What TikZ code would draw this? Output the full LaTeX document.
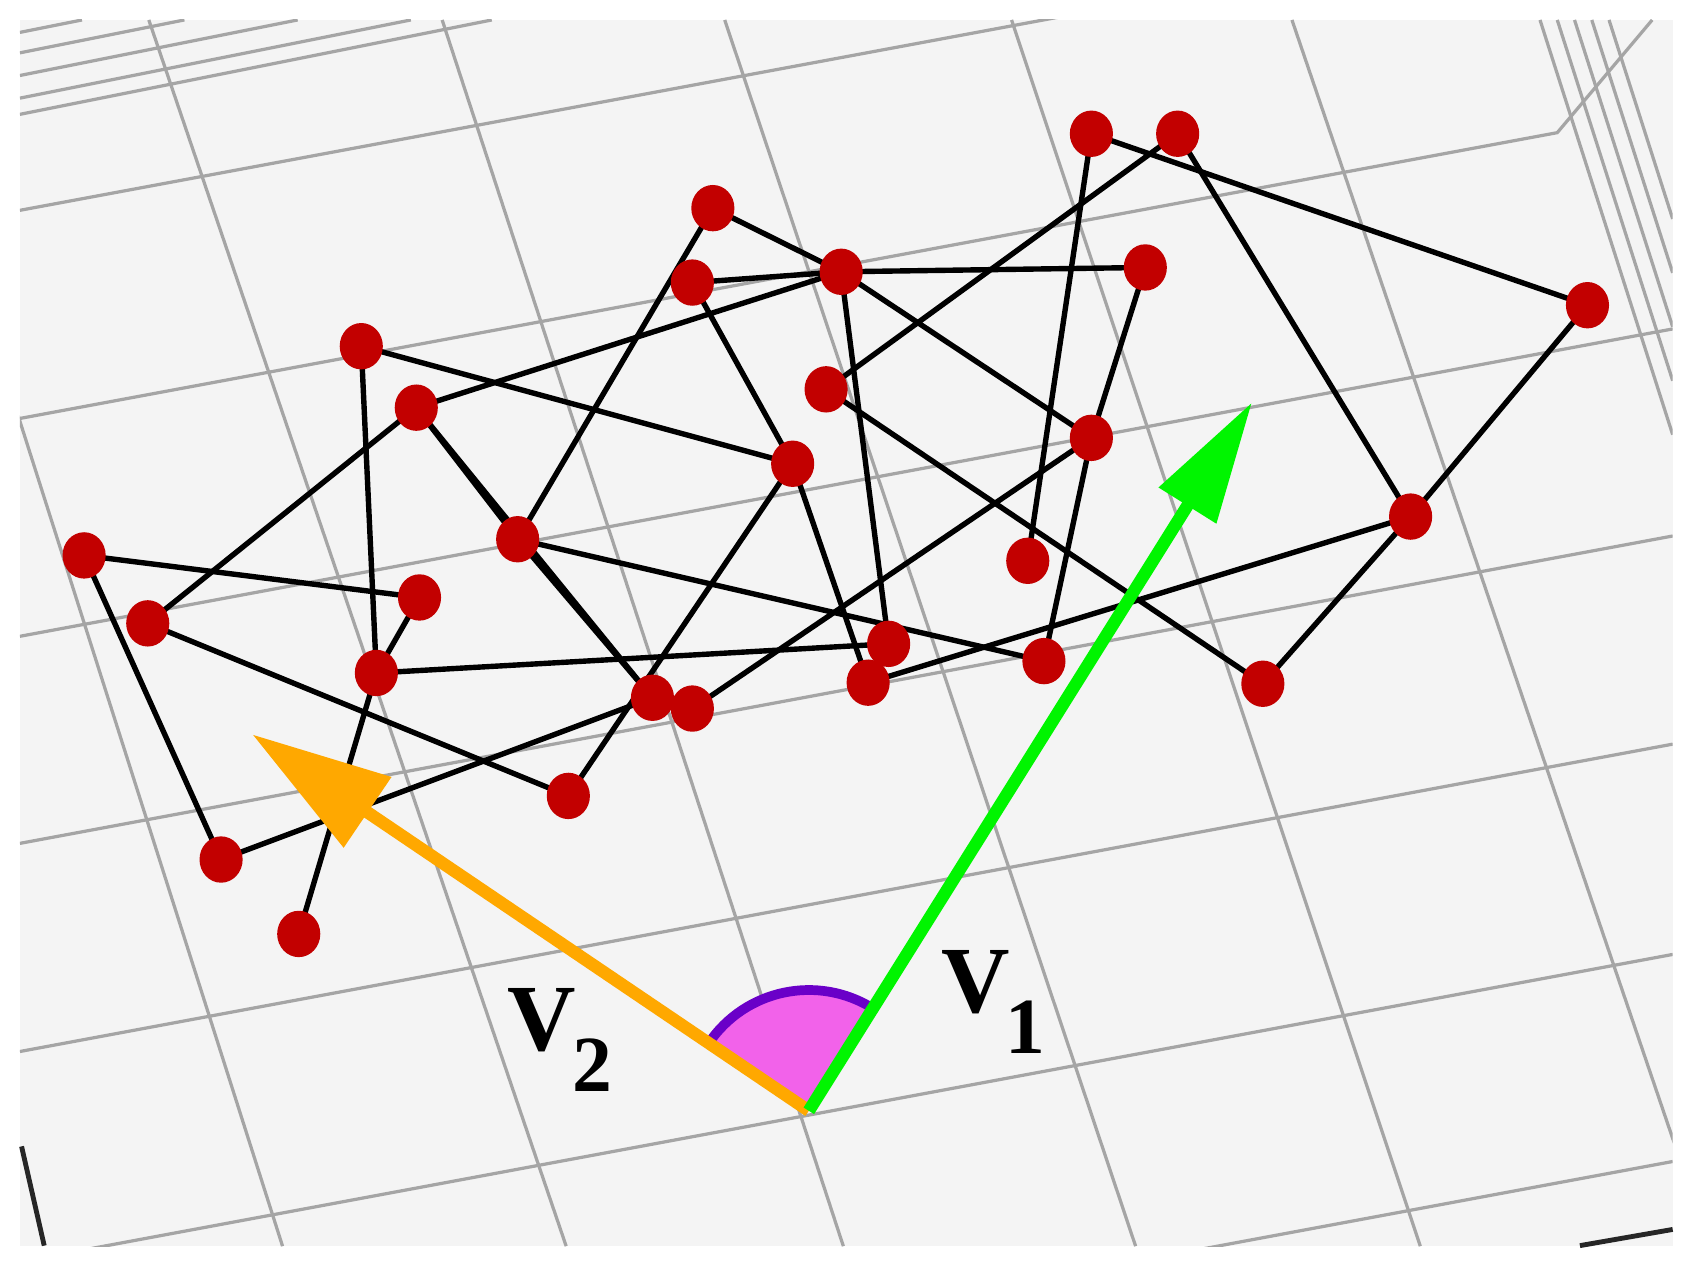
\documentclass[tikz,border=0pt]{standalone}
\usepackage{fontspec}
\setmainfont{Liberation Serif}
\usetikzlibrary{arrows.meta,shapes.geometric}
\definecolor{panel}{RGB}{244,244,244}
\definecolor{gridc}{RGB}{165,165,165}
\definecolor{dotred}{RGB}{194,0,0}
\definecolor{vgreen}{RGB}{0,245,0}
\definecolor{vorange}{RGB}{255,168,0}
\definecolor{sectorfill}{RGB}{242,98,234}
\definecolor{arcpurple}{RGB}{106,0,200}
\pgfdeclarelayer{back}
\pgfdeclarelayer{mid}
\pgfsetlayers{back,mid,main}
\begin{document}
\begin{tikzpicture}[x=0.1mm,y=-0.1mm,
  gridline/.style={draw=gridc,line width=0.3mm},
  axisline/.style={draw=black!85,line width=0.45mm},
  edge/.style={draw=black,line width=0.5mm},
  dot/.style={ellipse,fill=dotred,minimum width=4.0mm,minimum height=4.3mm,inner sep=0pt},
  vlabel/.style={anchor=base west,inner sep=0pt,font=\fontsize{25}{25}\selectfont\bfseries}]
\useasboundingbox (0,0) rectangle (1568,1170);
\begin{pgfonlayer}{back}
\fill[white] (0,0) rectangle (1568,1170);
\fill[panel] (18.5,18.5) rectangle (1551,1155.5);
\begin{scope}
\clip (18.5,18.5) rectangle (1551,1155.5);
% lines running down the floor
\draw[gridline] (-100,18.5) -- (262,1155.5);
\draw[gridline] (138,18.5) -- (525,1155.5);
\draw[gridline] (410,18.5) -- (782,1155.5);
\draw[gridline] (672,18.5) -- (1053,1155.5);
\draw[gridline] (938,18.5) -- (1317,1155.5);
\draw[gridline] (1198,18.5) -- (1585,1155.5);
% lines across the floor
\draw[gridline] (18.5,195) -- (1551,-90);
\draw[gridline] (18.5,388) -- (1444,123) -- (1532,18.5);
\draw[gridline] (18.5,590) -- (1551,305);
\draw[gridline] (18.5,782) -- (1551,497);
\draw[gridline] (18.5,975) -- (1551,690);
\draw[gridline] (18.5,1170) -- (1551,885);
\draw[gridline] (18.5,1362) -- (1551,1077);
% back wall, top left
\draw[gridline] (18.5,30) -- (76,18.5);
\draw[gridline] (18.5,49) -- (171,18.5);
\draw[gridline] (18.5,70) -- (276,18.5);
\draw[gridline] (18.5,91) -- (381,18.5);
\draw[gridline] (18.5,106) -- (456,18.5);
% side wall, top right
\draw[gridline] (1428,18.5) -- (1551,403);
\draw[gridline] (1444,18.5) -- (1551,353);
\draw[gridline] (1460,18.5) -- (1551,303);
\draw[gridline] (1476,18.5) -- (1551,253);
\draw[gridline] (1492,18.5) -- (1551,203);
\end{scope}
\draw[axisline] (20,1063) -- (41,1155);
\draw[axisline] (1465,1155) -- (1551,1140);
\end{pgfonlayer}

% graph vertices
\node[dot] (A) at (1012,124) {};
\node[dot] (B) at (1092,124) {};
\node[dot] (C) at (661,193) {};
\node[dot] (D) at (642,262) {};
\node[dot] (E) at (780,252) {};
\node[dot] (F) at (1062,248) {};
\node[dot] (G) at (1472,283) {};
\node[dot] (H) at (335,321) {};
\node[dot] (I) at (386,378) {};
\node[dot] (J) at (766,361) {};
\node[dot] (K) at (1012,406) {};
\node[dot] (L) at (735,430) {};
\node[dot] (M) at (480,500) {};
\node[dot] (N) at (78,515) {};
\node[dot] (O) at (953,520) {};
\node[dot] (P) at (1308,479) {};
\node[dot] (Q) at (389,554) {};
\node[dot] (R) at (137,578) {};
\node[dot] (S) at (349,624) {};
\node[dot] (T) at (824,597) {};
\node[dot] (U) at (968,613) {};
\node[dot] (V) at (805,633) {};
\node[dot] (W) at (605,647) {};
\node[dot] (X) at (642,657) {};
\node[dot] (Y) at (1171,634) {};
\node[dot] (Z) at (527,738) {};
\node[dot] (AA) at (205,797) {};
\node[dot] (AB) at (277,866) {};

\begin{pgfonlayer}{mid}
\foreach \a/\b in {A/G,A/O,B/J,B/P,C/E,C/M,D/E,D/L,E/F,E/I,E/K,E/T,F/K,G/P,
  H/L,H/S,I/R,I/M,I/W,M/W,M/U,N/Q,N/AA,R/Z,Q/S,S/AB,S/T,AA/W,L/Z,L/V,
  K/X,K/U,J/Y,P/Y,P/V}
  \draw[edge] (\a.center) -- (\b.center);
\end{pgfonlayer}

% angle between the vectors
\coordinate (o) at (750,1030);
\coordinate (t1) at (1161,373);
\coordinate (t2) at (234,681);
\fill[sectorfill] (o) -- ++(-57.97:112) arc[start angle=-57.97,end angle=-145.93,radius=112] -- cycle;
\draw[arcpurple,line width=0.9mm] (o) ++(-57.97:112) arc[start angle=-57.97,end angle=-145.93,radius=112];

% vectors
\draw[vorange,line width=1.15mm,-{Triangle[length=12.9mm,width=7.6mm]}] (o) -- (t2);
\draw[vgreen,line width=1.15mm,-{Triangle[length=11.3mm,width=6.0mm]}] (o) -- (t1);

\node[vlabel] (lv1) at (872,939) {V\kern-0.4mm\raisebox{-3.8mm}{\fontsize{21}{21}\selectfont 1}};
\node[vlabel] (lv2) at (470,974) {V\kern-0.3mm\raisebox{-3.8mm}{\fontsize{21}{21}\selectfont 2}};
\end{tikzpicture}
\end{document}
